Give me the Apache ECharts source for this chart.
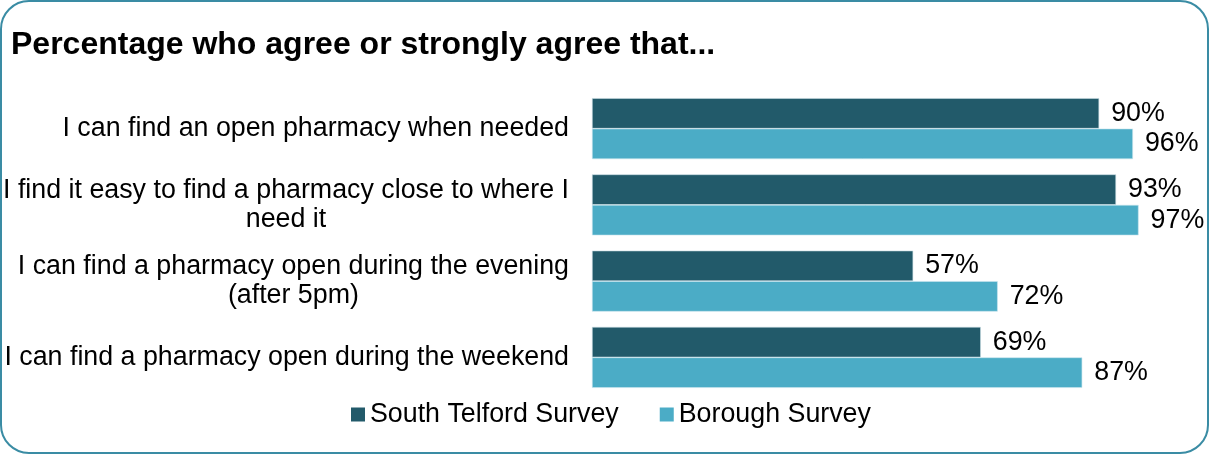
<!DOCTYPE html>
<html>
<head>
<meta charset="utf-8">
<script src="https://cdn.jsdelivr.net/npm/echarts@6/dist/echarts.min.js"></script>
<style>html,body{margin:0;padding:0;background:#fff;}#c{width:1210px;height:454px;}</style>
</head>
<body>
<div id="c"></div>
<script>
const titleText = 'Percentage who agree or strongly agree that...';
const categories = [
  'I can find an open pharmacy when needed',
  'I find it easy to find a pharmacy close to where I\nneed it',
  'I can find a pharmacy open during the evening\n(after 5pm)',
  'I can find a pharmacy open during the weekend'
];
const seriesNames = ['South Telford Survey', 'Borough Survey'];
const southTelford = [90, 93, 57, 69];
const borough = [96, 97, 72, 87];

const FONT = "'Liberation Sans', Arial, sans-serif";
const chart = echarts.init(document.getElementById('c'), null, {renderer: 'canvas'});
chart.setOption({
  animation: false,
  backgroundColor: '#fff',
  title: {
    text: titleText,
    left: 11, top: 29, padding: 0,
    textStyle: {fontFamily: FONT, fontSize: 32, fontWeight: 'bold', color: '#000'}
  },
  graphic: [{
    type: 'rect', silent: true, z: 100,
    shape: {x: 1, y: 1, width: 1207, height: 452, r: 28},
    style: {fill: 'none', stroke: '#3a8ca4', lineWidth: 2}
  }],
  legend: {
    data: seriesNames,
    left: 346, top: 396,
    icon: 'rect', itemWidth: 14, itemHeight: 14, itemGap: 41,
    itemStyle: {borderWidth: 0},
    textStyle: {fontFamily: FONT, fontSize: 26.8, color: '#000'}
  },
  grid: {left: 591.5, right: 54.5, top: 90.5, bottom: 58.5, containLabel: false},
  xAxis: {
    type: 'value', min: 0, max: 100, show: false
  },
  yAxis: {
    type: 'category', data: categories, inverse: true,
    axisLine: {show: false}, axisTick: {show: false}, splitLine: {show: false},
    axisLabel: {
      margin: 23,
      formatter: v => v.split('\n').map(l => '{c|' + l + '}').join('\n'),
      rich: {c: {align: 'center', fontFamily: FONT, fontSize: 26.8, lineHeight: 29, color: '#000'}}
    }
  },
  series: [
    {
      name: seriesNames[0], type: 'bar', data: southTelford,
      barGap: '0%', barCategoryGap: '20%',
      itemStyle: {color: '#225a6a', borderColor: '#c9dde4', borderWidth: 0.6},
      label: {show: true, position: 'right', distance: 12, formatter: '{c}%',
        fontFamily: FONT, fontSize: 26.8, color: '#000'}
    },
    {
      name: seriesNames[1], type: 'bar', data: borough,
      barGap: '0%', barCategoryGap: '20%',
      itemStyle: {color: '#4bacc6', borderColor: '#c9e6ee', borderWidth: 0.6},
      label: {show: true, position: 'right', distance: 12, formatter: '{c}%',
        fontFamily: FONT, fontSize: 26.8, color: '#000'}
    }
  ]
});
</script>
</body>
</html>
